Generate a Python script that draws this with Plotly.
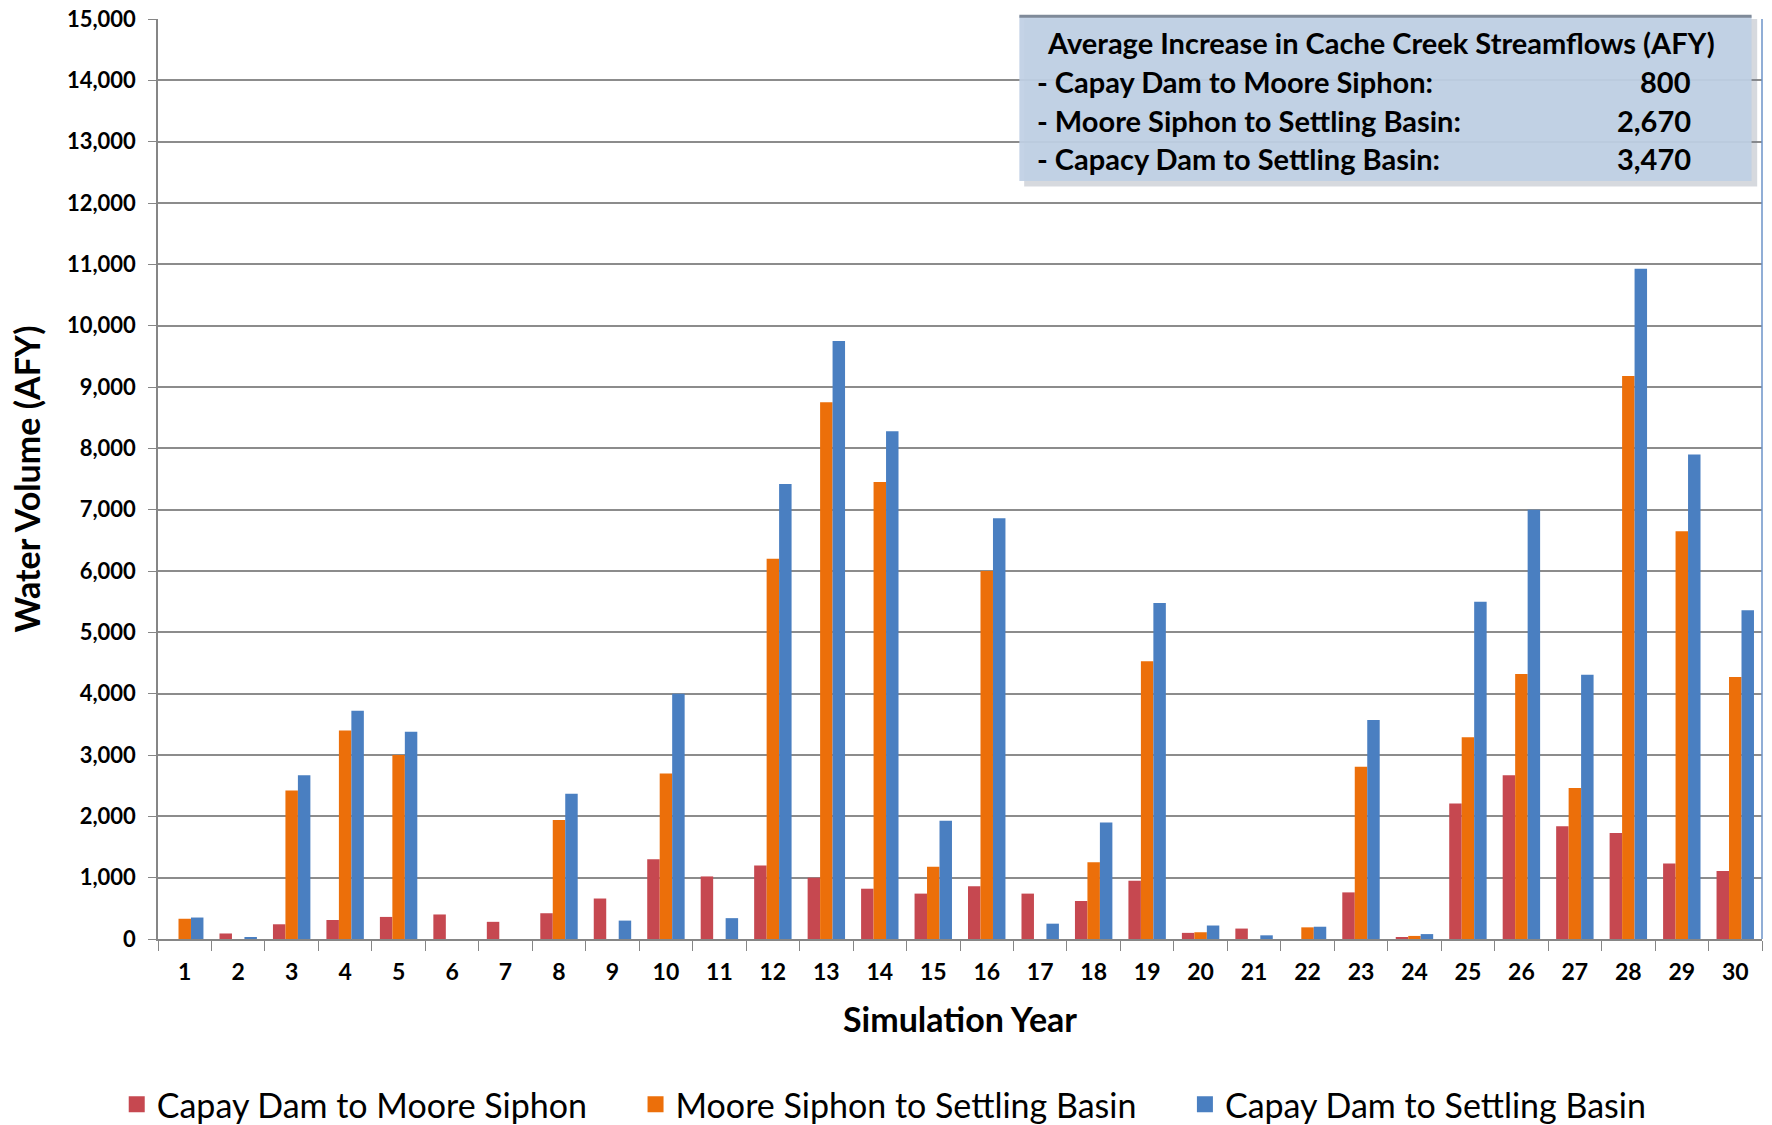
import plotly.graph_objects as go

years = [str(i) for i in range(1, 31)]
capay_moore = [0, 90, 240, 310, 360, 400, 280, 420, 660, 1300, 1020, 1200, 1000, 820, 740,
               860, 740, 620, 950, 100, 170, 0, 760, 20, 2210, 2670, 1840, 1730, 1230, 1110]
moore_settling = [330, 0, 2420, 3400, 3000, 0, 0, 1940, 0, 2700, 0, 6200, 8750, 7450, 1180,
                  6000, 0, 1250, 4530, 110, 0, 190, 2810, 50, 3290, 4320, 2460, 9180, 6650, 4270]
capay_settling = [350, 30, 2670, 3720, 3380, 0, 0, 2370, 300, 4000, 340, 7420, 9750, 8280, 1930,
                  6860, 250, 1900, 5480, 220, 60, 200, 3570, 80, 5500, 7000, 4310, 10930, 7900, 5360]

series_names = ["Capay Dam to Moore Siphon", "Moore Siphon to Settling Basin", "Capay Dam to Settling Basin"]
series_colors = ["#C64850", "#EC6F0A", "#4A7FC1"]

box_title = "Average Increase in Cache Creek Streamflows (AFY)"
box_labels = ["- Capay Dam to Moore Siphon:", "- Moore Siphon to Settling Basin:", "- Capacy Dam to Settling Basin:"]
box_values = ["800", "2,670", "3,470"]

yticks = list(range(0, 15001, 1000))
ytick_text = [f"{v:,}" for v in yticks]

FONT = "Lato"
PAD = "\u00a0" * 5

fig = go.Figure()
for name, vals, col in zip(series_names, [capay_moore, moore_settling, capay_settling], series_colors):
    fig.add_trace(go.Bar(x=years, y=vals, name=name, legendgroup=name, showlegend=False,
                         marker=dict(color=col, line=dict(width=0))))
# legend entries with larger square swatches
for i, (name, col) in enumerate(zip(series_names, series_colors)):
    label = name + (PAD if i < len(series_names) - 1 else "")
    fig.add_trace(go.Scatter(x=[None], y=[None], mode="markers", name=label, legendgroup=name,
                             marker=dict(symbol="square", size=20, color=col), showlegend=True))

fig.update_layout(
    width=1772, height=1125,
    margin=dict(l=158, r=10, t=19, b=186, autoexpand=False),
    paper_bgcolor="white", plot_bgcolor="white",
    barmode="group", bargap=0.3, bargroupgap=0,
    font=dict(family=FONT, color="black"),
    legend=dict(orientation="h", x=0.499, xanchor="center", xref="container",
                y=0.018, yanchor="middle", yref="container",
                font=dict(size=34, family=FONT), itemwidth=30, traceorder="normal",
                tracegroupgap=0, itemclick=False),
    showlegend=True,
)

fig.update_xaxes(
    type="category", tickson="boundaries", ticks="outside", ticklen=10, tickcolor="#868686",
    showgrid=False, showline=True, linecolor="#868686", linewidth=1.5, automargin=False,
    tickfont=dict(size=23, family=FONT, weight="bold"), ticklabelstandoff=12,
    title=dict(text="Simulation Year", font=dict(size=34, family=FONT, weight="bold"), standoff=24),
)
fig.update_yaxes(
    range=[0, 15000], tickvals=yticks, ticktext=ytick_text, ticks="outside", ticklen=8,
    tickcolor="#868686", showgrid=True, gridcolor="#8C8C8C", gridwidth=1.5, automargin=False,
    showline=True, linecolor="#868686", linewidth=1.5, zeroline=False,
    tickfont=dict(size=22, family=FONT, weight="bold"), ticklabelstandoff=8,
    title=dict(text="Water Volume (AFY)", font=dict(size=34, family=FONT, weight="bold"), standoff=16),
)

# right border of plot area
fig.add_shape(type="line", xref="paper", yref="paper", x0=1, x1=1, y0=0, y1=1,
              line=dict(color="#6D93C8", width=1.5))

# info box shadow and body
fig.add_shape(type="rect", xref="paper", yref="paper", x0=0.540, x1=0.997, y0=0.818, y1=1.000,
              fillcolor="rgba(120,130,145,0.30)", line=dict(width=0), layer="above")
fig.add_shape(type="rect", xref="paper", yref="paper", x0=0.537, x1=0.9935, y0=0.824, y1=1.003,
              fillcolor="rgba(192,208,228,0.93)", line=dict(width=0), layer="above")
fig.add_shape(type="line", xref="paper", yref="paper", x0=0.537, x1=0.9935, y0=1.003, y1=1.003,
              line=dict(color="#7F8A99", width=3), layer="above")

fig.add_annotation(xref="paper", yref="paper", x=0.553, y=0.974, text=box_title, showarrow=False,
                   xanchor="left", yanchor="middle", font=dict(size=29, family=FONT, weight="bold"))
row_y = [0.932, 0.890, 0.848]
for lab, val, yy in zip(box_labels, box_values, row_y):
    fig.add_annotation(xref="paper", yref="paper", x=0.547, y=yy, text=lab, showarrow=False,
                       xanchor="left", yanchor="middle", font=dict(size=29, family=FONT, weight="bold"))
    fig.add_annotation(xref="paper", yref="paper", x=0.957, y=yy, text=val, showarrow=False,
                       xanchor="right", yanchor="middle", font=dict(size=29, family=FONT, weight="bold"))

fig.write_html("out.html")
